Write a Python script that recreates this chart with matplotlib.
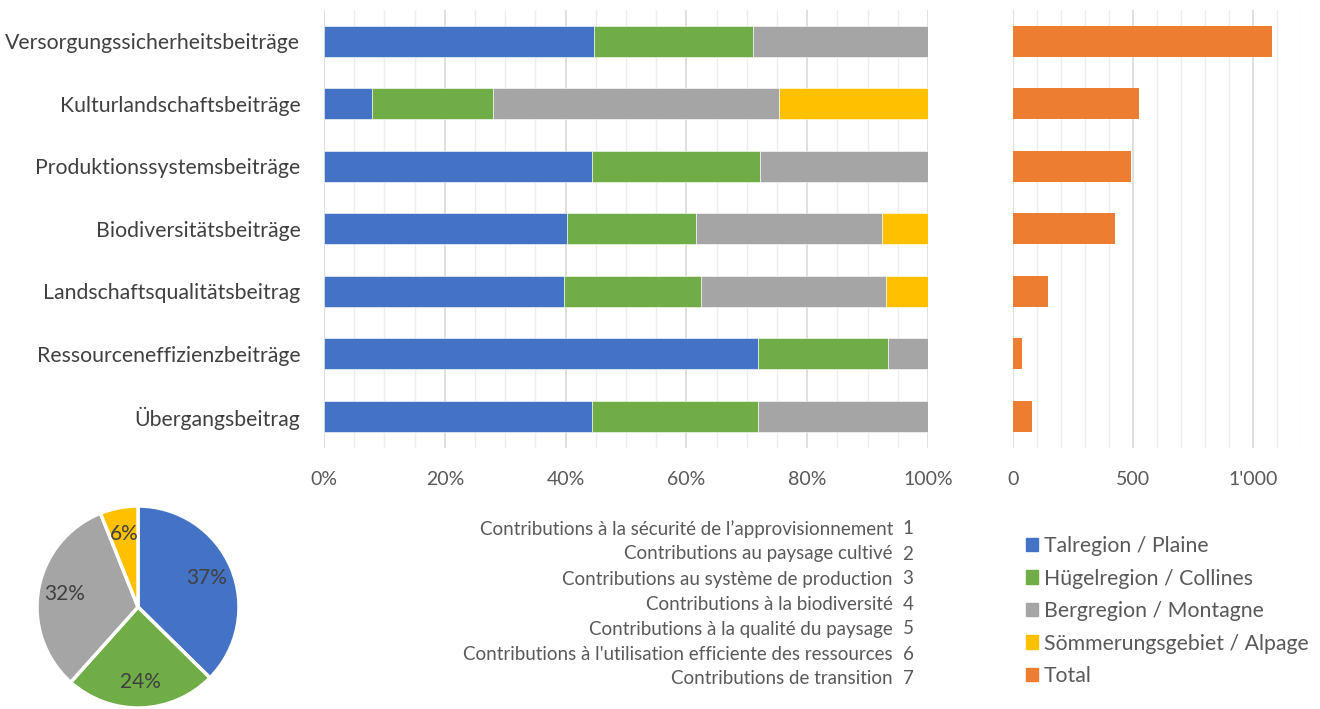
import matplotlib.pyplot as plt
import numpy as np
from matplotlib.patches import Patch
from matplotlib.ticker import MultipleLocator, FuncFormatter

plt.rcParams['font.family'] = ['Lato', 'DejaVu Sans']

categories = ['Versorgungssicherheitsbeiträge', 'Kulturlandschaftsbeiträge',
              'Produktionssystemsbeiträge', 'Biodiversitätsbeiträge',
              'Landschaftsqualitätsbeitrag', 'Ressourceneffizienzbeiträge',
              'Übergangsbeitrag']
talregion = [44.7, 8.0, 44.4, 40.2, 39.8, 71.9, 44.4]
huegelregion = [26.3, 19.9, 27.8, 21.4, 22.6, 21.4, 27.4]
bergregion = [29.0, 47.4, 27.8, 30.8, 30.6, 6.7, 28.2]
soemmerung = [0.0, 24.7, 0.0, 7.6, 7.0, 0.0, 0.0]
totals = [1079, 525, 493, 427, 147, 39, 80]

series_names = ['Talregion / Plaine', 'Hügelregion / Collines',
                'Bergregion / Montagne', 'Sömmerungsgebiet / Alpage', 'Total']
pie_values = [37, 24, 32, 6]

french_labels = ['Contributions à la sécurité de l\u2019approvisionnement',
                 'Contributions au paysage cultivé',
                 'Contributions au système de production',
                 'Contributions à la biodiversité',
                 'Contributions à la qualité du paysage',
                 "Contributions à l'utilisation efficiente des ressources",
                 'Contributions de transition']
french_numbers = ['1', '2', '3', '4', '5', '6', '7']

colors = ['#4472C4', '#70AD47', '#A5A5A5', '#FFC000', '#ED7D31']
text_grey = '#595959'

W, H = 1320, 709
fig = plt.figure(figsize=(W / 100, H / 100), dpi=100)

def box(x0, y0, x1, y1):
    return [x0 / W, 1 - y1 / H, (x1 - x0) / W, (y1 - y0) / H]

# stacked percentage bars
ax = fig.add_axes(box(324, 10, 928, 447.5))
y = np.arange(len(categories))
left = np.zeros(len(categories))
for vals, c in zip([talregion, huegelregion, bergregion, soemmerung], colors):
    ax.barh(y, vals, left=left, height=0.5, color=c, edgecolor='white',
            linewidth=0.4, zorder=3)
    left += np.array(vals)
ax.set_ylim(6.5, -0.5)
ax.set_xlim(0, 100)
ax.xaxis.set_major_locator(MultipleLocator(20))
ax.xaxis.set_minor_locator(MultipleLocator(5))
ax.xaxis.set_major_formatter(FuncFormatter(lambda v, p: f'{v:.0f}%'))
ax.grid(axis='x', which='minor', color='#ededed', linewidth=1, zorder=0)
ax.grid(axis='x', which='major', color='#d9d9d9', linewidth=1.2, zorder=0)
ax.set_yticks(y)
ax.set_yticklabels(categories, fontsize=15.3, color='#404040')
ax.tick_params(axis='y', length=0, pad=17)
ax.tick_params(axis='x', which='both', length=0, pad=17, labelsize=14,
               labelcolor=text_grey)
for s in ax.spines.values():
    s.set_visible(False)

# totals
ax2 = fig.add_axes(box(1012.7, 10, 1300.7, 447.5))
ax2.barh(y, totals, height=0.5, color=colors[4], zorder=3)
ax2.set_ylim(6.5, -0.5)
ax2.set_xlim(0, 1200)
ax2.set_xticks([0, 500, 1000])
ax2.xaxis.set_minor_locator(MultipleLocator(100))
ax2.xaxis.set_major_formatter(FuncFormatter(
    lambda v, p: f'{v:,.0f}'.replace(',', "'")))
ax2.grid(axis='x', which='minor', color='#ededed', linewidth=1, zorder=0)
ax2.grid(axis='x', which='major', color='#d9d9d9', linewidth=1.2, zorder=0)
ax2.set_yticks([])
ax2.tick_params(axis='x', which='both', length=0, pad=17, labelsize=14,
                labelcolor=text_grey)
for s in ax2.spines.values():
    s.set_visible(False)

# pie
ax3 = fig.add_axes(box(37, 506, 239, 708))
wedges, texts, autotexts = ax3.pie(
    pie_values, colors=colors[:4], startangle=90, counterclock=False,
    autopct='%1.0f%%', pctdistance=0.74,
    wedgeprops=dict(edgecolor='white', linewidth=2.5),
    textprops=dict(fontsize=15, color='#404040'))
ax3.set_xlim(-1.0, 1.0)
ax3.set_ylim(-1.0, 1.0)
ax3.set_aspect('equal')

# french list
for i, (lab, num) in enumerate(zip(french_labels, french_numbers)):
    yy = 1 - (529 + 25 * i) / H
    fig.text(893 / W, yy, lab, ha='right', va='center', fontsize=13.5,
             color=text_grey)
    fig.text(908 / W, yy, num, ha='center', va='center', fontsize=13.5,
             color=text_grey)

handles = [Patch(color=c) for c in colors]
fig.legend(handles, series_names, loc='upper left',
           bbox_to_anchor=(1026 / W, 1 - 536 / H), frameon=False,
           fontsize=15.3, labelcolor=text_grey, handlelength=0.55,
           handleheight=0.6, handletextpad=0.3, labelspacing=0.59,
           borderaxespad=0, borderpad=0)

fig.savefig('out.png', dpi=100)
